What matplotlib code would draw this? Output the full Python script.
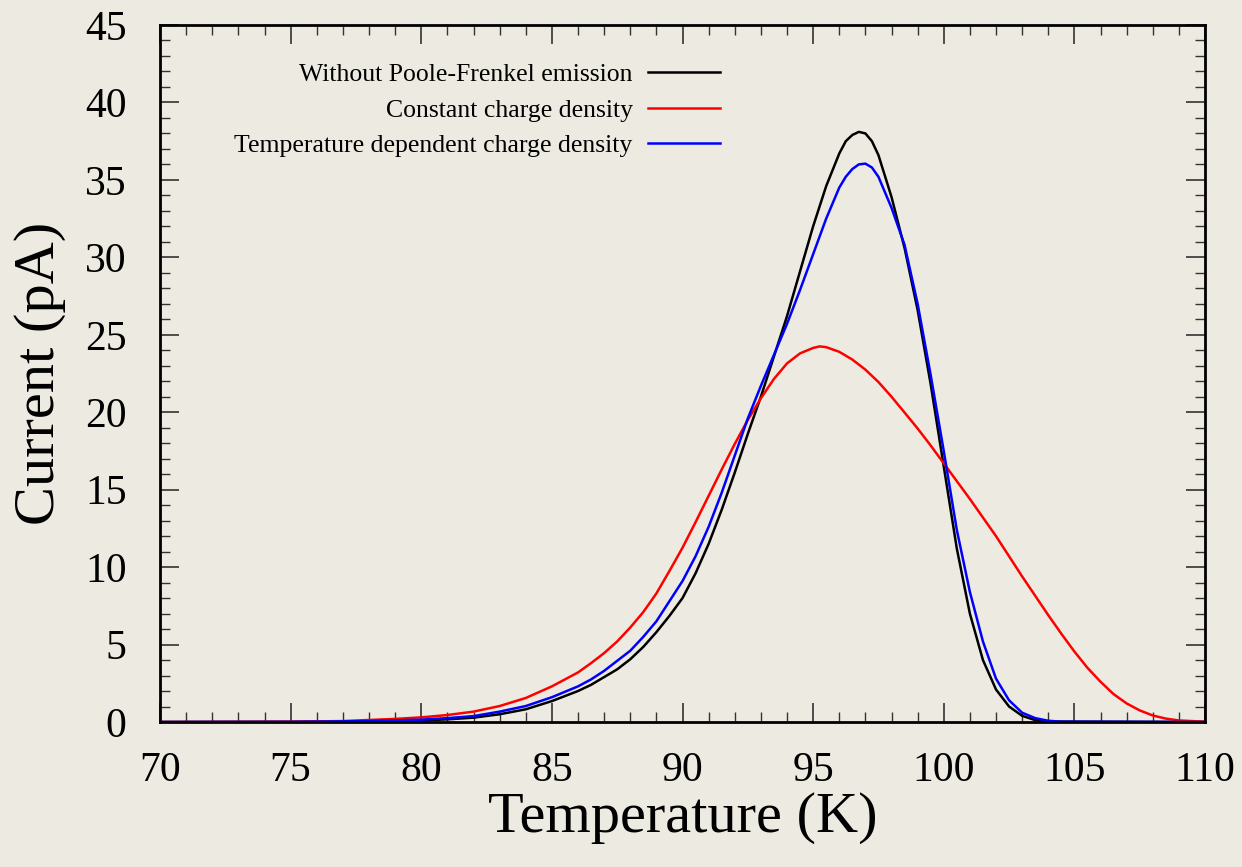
import matplotlib.pyplot as plt
from matplotlib.ticker import MultipleLocator

# black: without Poole-Frenkel emission
T_black = [70, 75, 78, 80, 81, 82, 83, 84, 85, 86, 86.5, 87, 87.5, 88, 88.5, 89, 89.5, 90, 90.5, 91, 91.5, 92, 92.5,
           93, 93.5, 94, 94.5, 95, 95.5, 96, 96.25, 96.5, 96.75, 97, 97.25, 97.5, 98, 98.5, 99,
           99.5, 100, 100.5, 101, 101.5, 102, 102.5, 103, 103.5, 104, 110]
I_black = [0, 0.01, 0.03, 0.1, 0.17, 0.28, 0.5, 0.82, 1.35, 2.0, 2.4, 2.9, 3.4, 4.05, 4.85, 5.8, 6.85, 8.0, 9.6, 11.5, 13.7, 16.1, 18.6,
           21.0, 23.6, 26.2, 29.1, 32.0, 34.6, 36.7, 37.5, 37.9, 38.1, 38.0, 37.5, 36.6, 33.9, 30.6, 26.6,
           21.8, 16.5, 11.2, 7.0, 4.0, 2.1, 1.0, 0.4, 0.12, 0.03, 0]

# red: constant charge density
T_red = [70, 75, 77, 78, 79, 80, 81, 82, 83, 84, 85, 86, 86.5, 87, 87.5, 88, 88.5, 89, 89.5, 90,
         90.5, 91, 91.5, 92, 92.5, 93, 93.5, 94, 94.5, 95, 95.25, 95.5, 96, 96.5, 97, 97.5, 98,
         98.5, 99, 99.5, 100, 100.5, 101, 101.5, 102, 102.5, 103, 103.5, 104, 104.5, 105, 105.5,
         106, 106.5, 107, 107.5, 108, 108.5, 109, 110]
I_red = [0, 0.02, 0.06, 0.13, 0.2, 0.3, 0.45, 0.67, 1.03, 1.55, 2.3, 3.2, 3.8, 4.45, 5.2, 6.1, 7.1, 8.3, 9.75, 11.25,
         12.9, 14.6, 16.3, 17.95, 19.5, 20.9, 22.15, 23.15, 23.8, 24.15, 24.25, 24.2, 23.9, 23.4, 22.75, 21.95, 21.0,
         19.98, 18.95, 17.85, 16.7, 15.55, 14.4, 13.2, 12.0, 10.7, 9.4, 8.15, 6.9, 5.7, 4.55, 3.5,
         2.6, 1.8, 1.2, 0.75, 0.42, 0.22, 0.1, 0.02]

# blue: temperature dependent charge density
T_blue = [70, 75, 78, 80, 81, 82, 83, 84, 85, 86, 86.5, 87, 87.5, 88, 88.5, 89, 89.5, 90, 90.5, 91,
          91.5, 92, 92.5, 93, 93.5, 94, 94.5, 95, 95.5, 96, 96.25, 96.5, 96.75, 97, 97.25, 97.5,
          98, 98.5, 99, 99.5, 100, 100.5, 101, 101.5, 102, 102.5, 103, 103.5, 104, 104.5, 110]
I_blue = [0, 0.01, 0.06, 0.15, 0.25, 0.38, 0.67, 1.03, 1.6, 2.3, 2.75, 3.3, 3.95, 4.6, 5.5, 6.5, 7.8, 9.1, 10.7, 12.6,
          14.8, 17.2, 19.6, 21.7, 23.7, 25.7, 27.9, 30.2, 32.5, 34.5, 35.2, 35.7, 36.0, 36.05, 35.8, 35.2,
          33.2, 30.8, 27.0, 22.4, 17.5, 12.4, 8.4, 5.2, 2.8, 1.4, 0.6, 0.25, 0.08, 0.02, 0]

labels = ["Without Poole-Frenkel emission", "Constant charge density",
          "Temperature dependent charge density"]

bg = "#edebe1"
plt.rcParams['font.family'] = ['Liberation Serif', 'DejaVu Serif']

fig = plt.figure(figsize=(12.42, 8.67), dpi=100, facecolor=bg)
ax = fig.add_axes([160 / 1242, 1 - 722 / 867, 1045 / 1242, 697 / 867])
ax.set_facecolor(bg)

ax.plot(T_black, I_black, color="black", lw=1.8, label=labels[0])
ax.plot(T_red, I_red, color="#ff0000", lw=1.8, label=labels[1])
ax.plot(T_blue, I_blue, color="#0000ff", lw=1.8, label=labels[2])

ax.set_xlim(70, 110)
ax.set_ylim(0, 45)
ax.xaxis.set_major_locator(MultipleLocator(5))
ax.xaxis.set_minor_locator(MultipleLocator(1))
ax.yaxis.set_major_locator(MultipleLocator(5))
ax.yaxis.set_minor_locator(MultipleLocator(1))
ax.tick_params(which="both", direction="in", top=True, right=True, color="#333333")
ax.tick_params(which="major", length=14, width=1.2)
ax.tick_params(which="minor", length=7, width=1.0)
ax.tick_params(axis="x", labelsize=30, pad=21)
ax.tick_params(axis="y", labelsize=30, pad=24)
for s in ax.spines.values():
    s.set_linewidth(2)

ax.set_xlabel("Temperature (K)", fontsize=42, labelpad=2)
ax.set_ylabel("Current (pA)", fontsize=42, labelpad=14)

ax.legend(loc="upper right", bbox_to_anchor=((720 - 160) / 1045, 0.945), frameon=False,
          markerfirst=False, fontsize=18.5, handlelength=2.8, handletextpad=0.6,
          labelspacing=0.49, borderpad=0, borderaxespad=0)

fig.savefig("out.png", dpi=100, facecolor=bg)
